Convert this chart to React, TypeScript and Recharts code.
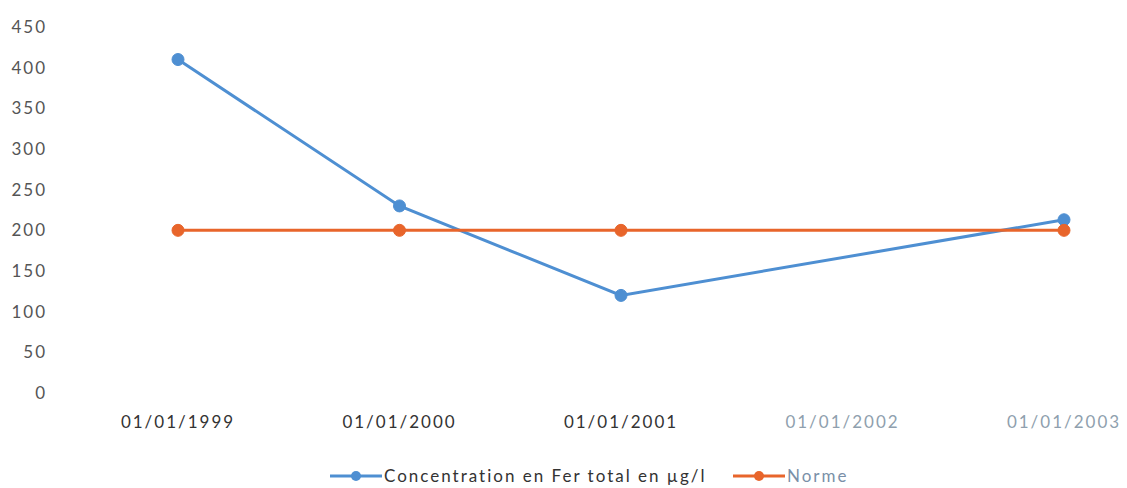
import React from "react";
import { LineChart, Line, XAxis, YAxis, Legend } from "recharts";

const dates = ["01/01/1999", "01/01/2000", "01/01/2001", "01/01/2002", "01/01/2003"];
const fer: (number | null)[] = [410, 230, 120, null, 213];
const norme: (number | null)[] = [200, 200, 200, null, 200];
const yTicks = [0, 50, 100, 150, 200, 250, 300, 350, 400, 450];

const BLUE = "#4e8fd2";
const ORANGE = "#e8652b";
const FONT = "Lato, 'Open Sans', sans-serif";
const SPACING = 2;

const data = dates.map((d, i) => ({ date: d, fer: fer[i], norme: norme[i] }));

// later dates print in a faded tone
const tickColors = ["#333", "#333", "#333", "#8f9fae", "#8f9fae"];

const XTick = (props: any) => {
  const { x, y, payload, index } = props;
  return (
    <text
      x={x}
      y={y}
      dy="0.71em"
      textAnchor="middle"
      fill={tickColors[index] ?? "#333"}
      fontSize={17}
      fontFamily={FONT}
      letterSpacing={SPACING}
    >
      {payload.value}
    </text>
  );
};

const YTick = (props: any) => {
  const { x, y, payload } = props;
  return (
    <text
      x={x + SPACING}
      y={y}
      dy="0.35em"
      textAnchor="end"
      fill="#555"
      fontSize={17}
      fontFamily={FONT}
      letterSpacing={SPACING}
    >
      {payload.value}
    </text>
  );
};

const LegendItems = () => {
  const items = [
    { label: "Concentration en Fer total en µg/l", color: BLUE, text: "#333", x: 330 },
    { label: "Norme", color: ORANGE, text: "#7a90a8", x: 733 },
  ];
  return (
    <svg width={1127} height={24} style={{ display: "block" }}>
      {items.map((it) => (
        <g key={it.label}>
          <line x1={it.x} x2={it.x + 52} y1={12} y2={12} stroke={it.color} strokeWidth={3} />
          <circle cx={it.x + 26} cy={12} r={5} fill={it.color} />
          <text
            x={it.x + 54}
            y={12}
            dy="0.35em"
            fill={it.text}
            fontSize={17}
            fontFamily={FONT}
            letterSpacing={SPACING}
          >
            {it.label}
          </text>
        </g>
      ))}
    </svg>
  );
};

export default function App() {
  return (
    <div style={{ position: "absolute", left: 0, top: 0, background: "#fff" }}>
      <LineChart
        width={1127}
        height={488}
        data={data}
        margin={{ top: 27, right: 0, left: 0, bottom: 0 }}
      >
        <XAxis
          dataKey="date"
          scale="point"
          padding={{ left: 123, right: 63 }}
          axisLine={false}
          tickLine={false}
          tickSize={8}
          tickMargin={15}
          height={71}
          interval={0}
          tick={<XTick />}
        />
        <YAxis
          domain={[0, 450]}
          ticks={yTicks}
          width={55}
          axisLine={false}
          tickLine={false}
          tickSize={8}
          tickMargin={2}
          tick={<YTick />}
        />
        <Legend
          verticalAlign="bottom"
          wrapperStyle={{ left: 0, bottom: 0 }}
          content={() => <LegendItems />}
        />
        <Line
          dataKey="fer"
          name="Concentration en Fer total en µg/l"
          stroke={BLUE}
          strokeWidth={3}
          dot={{ r: 6, fill: BLUE, stroke: BLUE, strokeWidth: 1 }}
          connectNulls
          isAnimationActive={false}
        />
        <Line
          dataKey="norme"
          name="Norme"
          stroke={ORANGE}
          strokeWidth={3}
          dot={{ r: 6, fill: ORANGE, stroke: ORANGE, strokeWidth: 1 }}
          connectNulls
          isAnimationActive={false}
        />
      </LineChart>
    </div>
  );
}
